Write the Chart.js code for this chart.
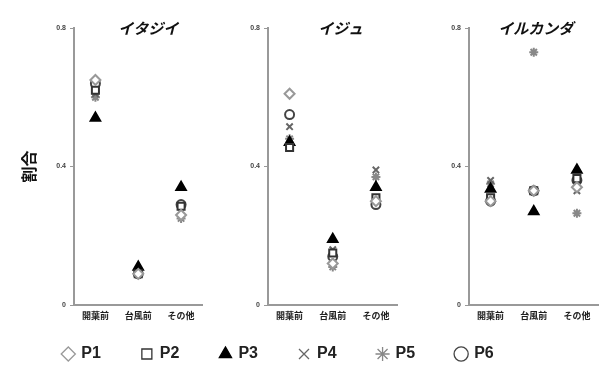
<!DOCTYPE html>
<html><head><meta charset="utf-8">
<script src="https://cdn.jsdelivr.net/npm/chart.js@4/dist/chart.umd.min.js"></script>
<style>
html,body{margin:0;padding:0;background:#fff;width:606px;height:379px;overflow:hidden;position:relative;}
canvas{position:absolute;}
</style></head><body>
<canvas id="c1" width="210" height="335" style="left:0;top:0"></canvas>
<canvas id="c2" width="195" height="335" style="left:210px;top:0"></canvas>
<canvas id="c3" width="201" height="335" style="left:405px;top:0"></canvas>
<canvas id="cl" width="606" height="220" style="left:0;top:305px"></canvas>
<script>
const categories = ["開葉前", "台風前", "その他"];
const species = ["イタジイ", "イジュ", "イルカンダ"];
const seriesNames = ["P1", "P2", "P3", "P4", "P5", "P6"];
const yTicks = [0, 0.4, 0.8];
// values per species: [開葉前, 台風前, その他]
const itajii_P1 = [0.65, 0.09, 0.26];
const itajii_P2 = [0.62, 0.09, 0.285];
const itajii_P3 = [0.54, 0.11, 0.34];
const itajii_P4 = [0.61, 0.10, 0.27];
const itajii_P5 = [0.60, 0.10, 0.25];
const itajii_P6 = [0.64, 0.09, 0.29];
const iju_P1 = [0.61, 0.12, 0.30];
const iju_P2 = [0.455, 0.15, 0.31];
const iju_P3 = [0.47, 0.19, 0.34];
const iju_P4 = [0.515, 0.16, 0.39];
const iju_P5 = [0.48, 0.11, 0.37];
const iju_P6 = [0.55, 0.14, 0.29];
const irukanda_P1 = [0.30, 0.33, 0.34];
const irukanda_P2 = [0.31, 0.33, 0.365];
const irukanda_P3 = [0.335, 0.27, 0.39];
const irukanda_P4 = [0.36, 0.33, 0.33];
const irukanda_P5 = [0.35, 0.73, 0.265];
const irukanda_P6 = [0.30, 0.33, 0.36];

const styles = [
  {pointStyle:'rectRot', borderColor:'#999', backgroundColor:'#fff', r:5},
  {pointStyle:'rect', borderColor:'#333', backgroundColor:'#fff', r:5},
  {pointStyle:'triangle', borderColor:'#000', backgroundColor:'#000', r:5.5},
  {pointStyle:'crossRot', borderColor:'#666', backgroundColor:'#fff', r:4.5},
  {pointStyle:'star', borderColor:'#888', backgroundColor:'#fff', r:4.5},
  {pointStyle:'circle', borderColor:'#444', backgroundColor:'#fff', r:4.5}
];

const panelData = [
  [itajii_P1, itajii_P2, itajii_P3, itajii_P4, itajii_P5, itajii_P6],
  [iju_P1, iju_P2, iju_P3, iju_P4, iju_P5, iju_P6],
  [irukanda_P1, irukanda_P2, irukanda_P3, irukanda_P4, irukanda_P5, irukanda_P6]
];

const titlePlugin = {
  id: 'panelTitle',
  afterDraw(chart, args, opts) {
    const ctx = chart.ctx, a = chart.chartArea;
    ctx.save();
    ctx.font = 'italic bold 15px "Noto Sans CJK JP"';
    ctx.fillStyle = '#111';
    ctx.textAlign = 'center';
    ctx.textBaseline = 'middle';
    ctx.fillText(opts.text, (a.left + a.right) / 2 + (opts.dx || 0), a.top);
    ctx.restore();
  }
};

const panelCfg = [
  {id:'c1', yWidth:74, right:5, title:true, dx:10},
  {id:'c2', yWidth:58, right:5, title:false, dx:8},
  {id:'c3', yWidth:64, right:6, title:false, dx:2}
];

panelCfg.forEach((p, k) => {
  new Chart(document.getElementById(p.id), {
    type: 'line',
    data: {
      labels: categories,
      datasets: panelData[k].map((vals, i) => ({
        label: seriesNames[i],
        data: vals,
        showLine: false,
        pointStyle: styles[i].pointStyle,
        pointRadius: styles[i].r,
        pointBorderWidth: 2,
        borderColor: styles[i].borderColor,
        backgroundColor: styles[i].backgroundColor,
        pointBackgroundColor: styles[i].backgroundColor,
        pointBorderColor: styles[i].borderColor
      }))
    },
    plugins: [titlePlugin],
    options: {
      responsive: false,
      animation: false,
      layout: {padding: {top: 28, right: p.right, bottom: 0, left: 0}},
      plugins: {
        legend: {display: false},
        tooltip: {enabled: false},
        panelTitle: {text: species[k], dx: p.dx}
      },
      scales: {
        x: {
          type: 'category',
          offset: true,
          grid: {display: false, drawTicks: false},
          border: {display: true, color: '#999', width: 2},
          ticks: {color: '#222', font: {size: 9, weight: 'bold', family: '"Noto Sans CJK JP"'}, padding: 5, maxRotation: 0, autoSkip: false},
          afterFit(s) { s.height = 30; }
        },
        y: {
          min: 0, max: 0.8,
          afterBuildTicks(s) { s.ticks = yTicks.map(v => ({value: v})); },
          grid: {drawOnChartArea: false, drawTicks: true, tickLength: 4, color: '#999'},
          border: {display: true, color: '#999', width: 2},
          ticks: {color: '#444', font: {size: 7, weight: 'bold', family: '"Liberation Sans"'}, padding: 4,
                  callback: v => (v === 0 ? '0' : String(v))},
          title: {display: p.title, text: '割合', color: '#111', font: {size: 16, weight: 'bold', family: '"Noto Sans CJK JP"'}, padding: {top: 19, bottom: 0}},
          afterFit(s) { s.width = p.yWidth; }
        }
      }
    }
  });
});

// legend-only chart
new Chart(document.getElementById('cl'), {
  type: 'line',
  data: {
    labels: [],
    datasets: seriesNames.map((n, i) => ({
      label: n, data: [],
      pointStyle: styles[i].pointStyle,
      borderColor: styles[i].borderColor,
      backgroundColor: styles[i].backgroundColor,
      pointBackgroundColor: styles[i].backgroundColor,
      borderWidth: 1.3
    }))
  },
  options: {
    responsive: false, animation: false,
    layout: {padding: {left: 0, right: 49, top: 0, bottom: 0}},
    scales: {x: {display: false}, y: {display: false}},
    plugins: {
      tooltip: {enabled: false},
      legend: {
        display: true, position: 'top',
        labels: {usePointStyle: true, boxWidth: 10, boxHeight: 10, padding: 41, color: '#222',
                 font: {size: 16, weight: 'bold', family: '"Liberation Sans Narrow", "Liberation Sans"'}}
      }
    }
  }
});
</script>
</body></html>
